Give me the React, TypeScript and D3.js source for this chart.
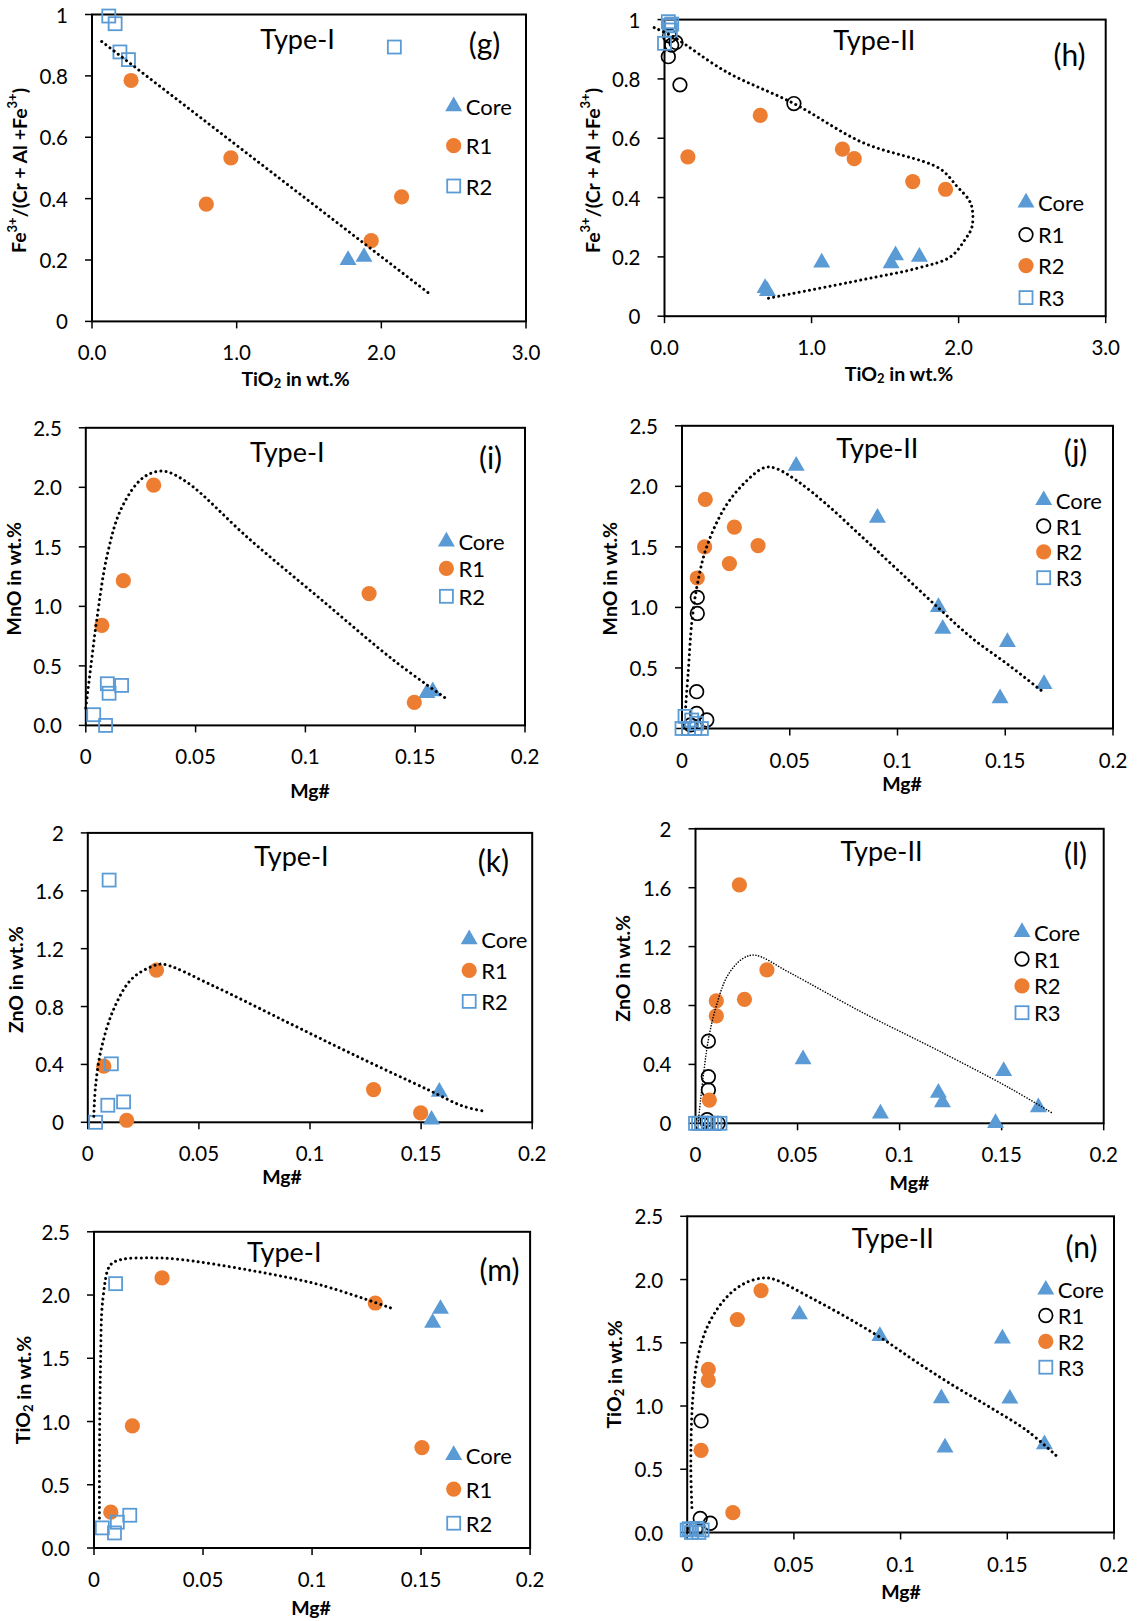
import React from 'react';
import * as d3 from 'd3';

type Pt = [number, number];

// ---------- (g) Type-I : Fe3+/(Cr+Al+Fe3+) vs TiO2 ----------
const gCore: Pt[] = [[1.77, 0.2], [1.88, 0.21]];
const gR1: Pt[] = [[0.27, 0.785], [0.96, 0.533], [0.79, 0.382], [2.14, 0.406], [1.93, 0.263]];
const gR2: Pt[] = [[0.116, 0.995], [0.16, 0.97], [0.193, 0.878], [0.252, 0.853], [2.09, 0.894]];
const gTrend: Pt[] = [[0.067, 0.912], [2.333, 0.09]];

// ---------- (h) Type-II ----------
const hCore: Pt[] = [[0.684, 0.095], [0.7, 0.085], [1.069, 0.181], [1.541, 0.178], [1.571, 0.205], [1.733, 0.2]];
const hR1: Pt[] = [[0.026, 0.875], [0.078, 0.923], [0.049, 0.914], [0.105, 0.78], [0.88, 0.717], [0.035, 0.945]];
const hR2: Pt[] = [[0.159, 0.537], [0.651, 0.677], [1.21, 0.563], [1.29, 0.531], [1.688, 0.454], [1.911, 0.428]];
const hR3: Pt[] = [[0.026, 0.993], [0.033, 0.979], [0.049, 0.985], [0.0, 0.92], [0.04, 0.965]];
const hTrend: Pt[] = [[-0.07, 0.973], [0.06, 0.942], [0.42, 0.824], [0.88, 0.717], [1.35, 0.585], [1.87, 0.498], [1.99, 0.437], [2.07, 0.392], [2.093, 0.36], [2.09, 0.3], [2.043, 0.258], [1.944, 0.2], [1.72, 0.162], [1.347, 0.123], [0.689, 0.059]];

// ---------- (i) Type-I : MnO vs Mg# ----------
const iCore: Pt[] = [[0.1553, 0.272], [0.158, 0.286]];
const iR1: Pt[] = [[0.0073, 0.841], [0.0171, 1.216], [0.0309, 2.018], [0.129, 1.107], [0.1496, 0.193]];
const iR2: Pt[] = [[0.0036, 0.09], [0.009, 0.0], [0.0098, 0.35], [0.0106, 0.27], [0.0163, 0.336]];
const iTrend: Pt[] = [[0, 0.146], [0.0024, 0.51], [0.0049, 0.874], [0.0098, 1.435], [0.0163, 1.827], [0.026, 2.08], [0.035, 2.136], [0.0455, 2.05], [0.0748, 1.56], [0.107, 1.06], [0.14, 0.55], [0.1642, 0.224]];

// ---------- (j) Type-II : MnO vs Mg# ----------
const jCore: Pt[] = [[0.053, 2.17], [0.0907, 1.74], [0.119, 1.003], [0.121, 0.823], [0.151, 0.713], [0.1476, 0.249], [0.168, 0.367]];
const jR1: Pt[] = [[0.0071, 1.083], [0.0071, 0.95], [0.0068, 0.304], [0.0068, 0.125], [0.0115, 0.07], [0.004, 0.03]];
const jR2: Pt[] = [[0.0108, 1.892], [0.0105, 1.5], [0.0071, 1.243], [0.0243, 1.663], [0.022, 1.362], [0.0353, 1.511]];
const jR3: Pt[] = [[0.0014, 0.1], [0.0045, 0.07], [0.0068, 0.043], [0, 0], [0.003, 0], [0.006, 0], [0.009, 0]];
const jTrend: Pt[] = [[0.0017, 0.18], [0.0029, 0.47], [0.0046, 0.884], [0.0071, 1.188], [0.0113, 1.492], [0.0198, 1.823], [0.0299, 2.044], [0.0383, 2.155], [0.0434, 2.149], [0.0535, 2.044], [0.0671, 1.851], [0.084, 1.575], [0.1008, 1.298], [0.1194, 0.989], [0.1346, 0.746], [0.1515, 0.525], [0.1684, 0.29]];

// ---------- (k) Type-I : ZnO vs Mg# ----------
const kCore: Pt[] = [[0.1582, 0.21], [0.1547, 0.018]];
const kR1: Pt[] = [[0.0072, 0.388], [0.0175, 0.014], [0.0309, 1.051], [0.1286, 0.226], [0.1498, 0.065]];
const kR2: Pt[] = [[0.0096, 1.674], [0.0106, 0.404], [0.009, 0.118], [0.0161, 0.141], [0.0035, 0.0]];
const kTrend: Pt[] = [[0.0027, 0.042], [0.0035, 0.25], [0.006, 0.503], [0.0116, 0.78], [0.0196, 0.988], [0.0293, 1.08], [0.034, 1.092], [0.0566, 0.942], [0.0887, 0.7], [0.121, 0.457], [0.153, 0.226], [0.169, 0.111], [0.1788, 0.076]];

// ---------- (l) Type-II : ZnO vs Mg# ----------
const lCore: Pt[] = [[0.0527, 0.434], [0.0906, 0.066], [0.119, 0.207], [0.121, 0.143], [0.151, 0.354], [0.147, 0.002], [0.168, 0.109]];
const lR1: Pt[] = [[0.0063, 0.558], [0.0063, 0.316], [0.0063, 0.226], [0.0057, 0.025], [0.0111, 0.0], [0.006, 0.0], [0.003, 0.0]];
const lR2: Pt[] = [[0.0215, 1.619], [0.035, 1.042], [0.024, 0.842], [0.0102, 0.831], [0.0102, 0.729], [0.0068, 0.158]];
const lR3: Pt[] = [[0, 0], [0.0015, 0], [0.003, 0], [0.0045, 0], [0.0063, 0], [0.0078, 0], [0.0095, 0], [0.012, 0]];
const lTrend: Pt[] = [[0.0013, 0], [0.004, 0.343], [0.0066, 0.59], [0.0102, 0.797], [0.0156, 1.0], [0.0228, 1.115], [0.029, 1.142], [0.046, 1.024], [0.082, 0.751], [0.1178, 0.502], [0.1537, 0.241], [0.1752, 0.066]];

// ---------- (m) Type-I : TiO2 vs Mg# ----------
const mCore: Pt[] = [[0.1553, 1.78], [0.1589, 1.89]];
const mR1: Pt[] = [[0.0312, 2.135], [0.0176, 0.966], [0.0077, 0.283], [0.129, 1.937], [0.1504, 0.794]];
const mR2: Pt[] = [[0.0099, 2.09], [0.0038, 0.159], [0.0107, 0.204], [0.0094, 0.119], [0.0164, 0.259]];
const mTrend: Pt[] = [[0.0025, 0.238], [0.0025, 0.648], [0.003, 1.442], [0.0041, 1.971], [0.0074, 2.235], [0.0123, 2.28], [0.0255, 2.294], [0.0386, 2.283], [0.0715, 2.196], [0.1044, 2.077], [0.138, 1.886]];

// ---------- (n) Type-II : TiO2 vs Mg# ----------
const nCore: Pt[] = [[0.0526, 1.724], [0.0903, 1.553], [0.1191, 1.06], [0.1208, 0.671], [0.1477, 1.534], [0.1512, 1.058], [0.1674, 0.697]];
const nR1: Pt[] = [[0.0065, 0.882], [0.0061, 0.112], [0.0108, 0.073], [0.004, 0.03]];
const nR2: Pt[] = [[0.0346, 1.913], [0.0235, 1.684], [0.0099, 1.289], [0.0099, 1.203], [0.0065, 0.65], [0.0214, 0.157]];
const nR3: Pt[] = [[0, 0.02], [0.002, 0], [0.0045, 0.033], [0.007, 0.02], [0.001, 0.03], [0.0055, 0.0]];
const nTrend: Pt[] = [[0.0022, 0.197], [0.0017, 0.526], [0.0026, 1.053], [0.0051, 1.395], [0.0103, 1.658], [0.0189, 1.868], [0.0274, 1.974], [0.036, 2.013], [0.0411, 2.0], [0.0566, 1.868], [0.0737, 1.711], [0.0908, 1.539], [0.108, 1.342], [0.1251, 1.158], [0.1422, 0.987], [0.1594, 0.803], [0.1731, 0.605]];

// ---------- ticks ----------
const tiTicks = [0, 1, 2, 3];
const feTicks = [0, 0.2, 0.4, 0.6, 0.8, 1];
const mgTicks = [0, 0.05, 0.1, 0.15, 0.2];
const mnoTicks = [0, 0.5, 1, 1.5, 2, 2.5];
const znoTicks = [0, 0.4, 0.8, 1.2, 1.6, 2];
const tio2Ticks = [0, 0.5, 1, 1.5, 2, 2.5];

const BLUE = '#5B9BD5';
const ORANGE = '#ED7D31';
const FONT = 'Lato, "Open Sans", sans-serif';
const AXT = 19.5;

type Kind = 'tri' | 'dot' | 'ring' | 'sq';
interface Series { kind: Kind; label: string; data: Pt[] }
interface Panel {
  title: string; tag: string;
  L: number; R: number; T: number; B: number;
  xDom: [number, number]; yDom: [number, number];
  xTicks: number[]; yTicks: number[];
  xFmt: (v: number) => string; yFmt: (v: number) => string;
  series: Series[]; trend: Pt[]; trendW: number; trendGap: number;
  legX: number; legY: number[];
  titleP: Pt; tagP: Pt;
  xTitle: 'tio2' | 'mg'; yTitle: 'fe' | 'mno' | 'zno' | 'tio2';
  xTitleP: Pt; yTitleP: Pt;
}

const f1 = (v: number) => v.toFixed(1);
const fs = (v: number) => String(v);

const typeI = (core: Pt[], r1: Pt[], r2: Pt[]): Series[] => [
  { kind: 'tri', label: 'Core', data: core },
  { kind: 'dot', label: 'R1', data: r1 },
  { kind: 'sq', label: 'R2', data: r2 },
];
const typeII = (core: Pt[], r1: Pt[], r2: Pt[], r3: Pt[]): Series[] => [
  { kind: 'tri', label: 'Core', data: core },
  { kind: 'ring', label: 'R1', data: r1 },
  { kind: 'dot', label: 'R2', data: r2 },
  { kind: 'sq', label: 'R3', data: r3 },
];

const TW = 3.0;
const TG = 5.2;

const panels: Panel[] = [
  {
    title: 'Type-I', tag: '(g)', L: 92, R: 526, T: 14.5, B: 321.4,
    xDom: [0, 3], yDom: [0, 1], xTicks: tiTicks, yTicks: feTicks, xFmt: f1, yFmt: fs,
    series: typeI(gCore, gR1, gR2), trend: gTrend, trendW: TW, trendGap: TG,
    legX: 453.7, legY: [106.4, 145.7, 186], titleP: [297.6, 38.2], tagP: [484.5, 43.4],
    xTitle: 'tio2', yTitle: 'fe', xTitleP: [295.6, 378.2], yTitleP: [18.6, 170.5],
  },
  {
    title: 'Type-II', tag: '(h)', L: 664.5, R: 1105.7, T: 19.6, B: 316.2,
    xDom: [0, 3], yDom: [0, 1], xTicks: tiTicks, yTicks: feTicks, xFmt: f1, yFmt: fs,
    series: typeII(hCore, hR1, hR2, hR3), trend: hTrend, trendW: TW, trendGap: TG,
    legX: 1026, legY: [202.5, 234.6, 265.6, 297.6], titleP: [874.3, 39.3], tagP: [1069.5, 53.7],
    xTitle: 'tio2', yTitle: 'fe', xTitleP: [899, 373], yTitleP: [592, 170.5],
  },
  {
    title: 'Type-I', tag: '(i)', L: 85.8, R: 525, T: 427.8, B: 725.4,
    xDom: [0, 0.2], yDom: [0, 2.5], xTicks: mgTicks, yTicks: mnoTicks, xFmt: fs, yFmt: f1,
    series: typeI(iCore, iR1, iR2), trend: iTrend, trendW: TW, trendGap: TG,
    legX: 446.4, legY: [541.5, 568.4, 596.3], titleP: [287.3, 451.6], tagP: [490.5, 456.8],
    xTitle: 'mg', yTitle: 'mno', xTitleP: [310, 790.6], yTitleP: [13.4, 578.7],
  },
  {
    title: 'Type-II', tag: '(j)', L: 682, R: 1113, T: 425.8, B: 728.5,
    xDom: [0, 0.2], yDom: [0, 2.5], xTicks: mgTicks, yTicks: mnoTicks, xFmt: fs, yFmt: f1,
    series: typeII(jCore, jR1, jR2, jR3), trend: jTrend, trendW: TW, trendGap: TG,
    legX: 1043.7, legY: [500.2, 526, 551.8, 577.7], titleP: [877.4, 447.5], tagP: [1075.5, 449.5],
    xTitle: 'mg', yTitle: 'mno', xTitleP: [902, 783.3], yTitleP: [609.7, 578.7],
  },
  {
    title: 'Type-I', tag: '(k)', L: 87.8, R: 532.2, T: 832.9, B: 1122.3,
    xDom: [0, 0.2], yDom: [0, 2], xTicks: mgTicks, yTicks: znoTicks, xFmt: fs, yFmt: fs,
    series: typeI(kCore, kR1, kR2), trend: kTrend, trendW: TW, trendGap: TG,
    legX: 469.2, legY: [939.4, 970.4, 1001.4], titleP: [291.4, 855.7], tagP: [493.5, 859.8],
    xTitle: 'mg', yTitle: 'zno', xTitleP: [282, 1176], yTitleP: [15.5, 979.7],
  },
  {
    title: 'Type-II', tag: '(l)', L: 695.5, R: 1103.7, T: 828.8, B: 1123.3,
    xDom: [0, 0.2], yDom: [0, 2], xTicks: mgTicks, yTicks: znoTicks, xFmt: fs, yFmt: fs,
    series: typeII(lCore, lR1, lR2, lR3), trend: lTrend, trendW: 1.6, trendGap: 2.8,
    legX: 1022, legY: [932.1, 959, 985.9, 1012.7], titleP: [881.5, 850.5], tagP: [1075.5, 852.6],
    xTitle: 'mg', yTitle: 'zno', xTitleP: [909.4, 1182.2], yTitleP: [622, 968.3],
  },
  {
    title: 'Type-I', tag: '(m)', L: 94, R: 530.1, T: 1231.8, B: 1548,
    xDom: [0, 0.2], yDom: [0, 2.5], xTicks: mgTicks, yTicks: tio2Ticks, xFmt: fs, yFmt: f1,
    series: typeI(mCore, mR1, mR2), trend: mTrend, trendW: TW, trendGap: TG,
    legX: 453.7, legY: [1455, 1489.1, 1523.2], titleP: [284.2, 1251.4], tagP: [499.5, 1269],
    xTitle: 'mg', yTitle: 'tio2', xTitleP: [311, 1607], yTitleP: [22.7, 1390],
  },
  {
    title: 'Type-II', tag: '(n)', L: 687.2, R: 1114, T: 1216.3, B: 1532.5,
    xDom: [0, 0.2], yDom: [0, 2.5], xTicks: mgTicks, yTicks: tio2Ticks, xFmt: fs, yFmt: f1,
    series: typeII(nCore, nR1, nR2, nR3), trend: nTrend, trendW: TW, trendGap: TG,
    legX: 1045.8, legY: [1289.7, 1315.5, 1341.4, 1367.2], titleP: [892.9, 1237], tagP: [1081.5, 1246.3],
    xTitle: 'mg', yTitle: 'tio2', xTitleP: [901, 1591.4], yTitleP: [613.8, 1374.4],
  },
];

const triPath = d3.symbol(d3.symbolTriangle, 125)() as string;

function Marker({ kind, x, y }: { kind: Kind; x: number; y: number }) {
  if (kind === 'tri') return <path d={triPath} transform={`translate(${x},${y})`} fill={BLUE} />;
  if (kind === 'dot') return <circle cx={x} cy={y} r={7.6} fill={ORANGE} />;
  if (kind === 'ring') return <circle cx={x} cy={y} r={6.8} fill="none" stroke="#000" strokeWidth={1.7} />;
  return <rect x={x - 6.5} y={y - 6.5} width={13} height={13} fill="none" stroke={BLUE} strokeWidth={1.8} />;
}

function YTitle({ kind, x, y }: { kind: Panel['yTitle']; x: number; y: number }) {
  const common = {
    transform: `translate(${x},${y}) rotate(-90)`, textAnchor: 'middle' as const,
    dominantBaseline: 'central' as const, fontFamily: FONT, fontWeight: 700, fontSize: AXT, fill: '#000',
  };
  if (kind === 'fe') {
    return (
      <text {...common}>
        Fe<tspan dy={-7} fontSize={13}>3+</tspan><tspan dy={7}>/(Cr + Al +Fe</tspan>
        <tspan dy={-7} fontSize={13}>3+</tspan><tspan dy={7}>)</tspan>
      </text>
    );
  }
  if (kind === 'tio2') {
    return (
      <text {...common}>
        TiO<tspan dy={5} fontSize={13}>2</tspan><tspan dy={-5}> in wt.%</tspan>
      </text>
    );
  }
  return <text {...common}>{kind === 'mno' ? 'MnO in wt.%' : 'ZnO in wt.%'}</text>;
}

function XTitle({ kind, x, y }: { kind: Panel['xTitle']; x: number; y: number }) {
  const common = {
    x, y, textAnchor: 'middle' as const, dominantBaseline: 'central' as const,
    fontFamily: FONT, fontWeight: 700, fontSize: AXT, fill: '#000',
  };
  if (kind === 'tio2') {
    return (
      <text {...common}>
        TiO<tspan dy={5} fontSize={13}>2</tspan><tspan dy={-5}> in wt.%</tspan>
      </text>
    );
  }
  return <text {...common}>Mg#</text>;
}

function PanelView({ p }: { p: Panel }) {
  const x = d3.scaleLinear().domain(p.xDom).range([p.L, p.R]);
  const y = d3.scaleLinear().domain(p.yDom).range([p.B, p.T]);
  const line = d3.line<Pt>().x((d) => x(d[0])).y((d) => y(d[1]))
    .curve(p.trend.length > 2 ? d3.curveCatmullRom.alpha(0.5) : d3.curveLinear);
  return (
    <g>
      <rect x={p.L} y={p.T} width={p.R - p.L} height={p.B - p.T} fill="none" stroke="#000" strokeWidth={2} />
      {p.yTicks.map((t) => (
        <g key={'y' + t}>
          <line x1={p.L - 7} x2={p.L} y1={y(t)} y2={y(t)} stroke="#000" strokeWidth={1.5} />
          <text x={p.L - 24} y={y(t)} textAnchor="end" dominantBaseline="central"
            fontFamily={FONT} fontSize={20.5} fill="#000">{p.yFmt(t)}</text>
        </g>
      ))}
      {p.xTicks.map((t) => (
        <g key={'x' + t}>
          <line x1={x(t)} x2={x(t)} y1={p.B} y2={p.B + 7} stroke="#000" strokeWidth={1.5} />
          <text x={x(t)} y={p.B + 31} textAnchor="middle" dominantBaseline="central"
            fontFamily={FONT} fontSize={20.5} fill="#000">{p.xFmt(t)}</text>
        </g>
      ))}
      {p.series.map((s, si) => (
        <g key={'s' + si}>
          {s.data.map((d, i) => <Marker key={i} kind={s.kind} x={x(d[0])} y={y(d[1])} />)}
        </g>
      ))}
      <path d={line(p.trend) || ''} fill="none" stroke="#000" strokeWidth={p.trendW}
        strokeDasharray={`0.01 ${p.trendGap}`} strokeLinecap="round" />
      <text x={p.titleP[0]} y={p.titleP[1]} textAnchor="middle" dominantBaseline="central"
        fontFamily={FONT} fontSize={27} fill="#000">{p.title}</text>
      <text x={p.tagP[0]} y={p.tagP[1]} textAnchor="middle" dominantBaseline="central"
        fontFamily={FONT} fontSize={30} fill="#000">{p.tag}</text>
      {p.series.map((s, si) => (
        <g key={'l' + si}>
          <Marker kind={s.kind} x={p.legX} y={p.legY[si]} />
          <text x={p.legX + 12} y={p.legY[si]} dominantBaseline="central"
            fontFamily={FONT} fontSize={22} fill="#000">{s.label}</text>
        </g>
      ))}
      <XTitle kind={p.xTitle} x={p.xTitleP[0]} y={p.xTitleP[1]} />
      <YTitle kind={p.yTitle} x={p.yTitleP[0]} y={p.yTitleP[1]} />
    </g>
  );
}

export default function App() {
  return (
    <svg width={1144} height={1621} style={{ position: 'absolute', left: 0, top: 0, background: '#fff' }}>
      <rect width={1144} height={1621} fill="#fff" />
      {panels.map((p) => <PanelView key={p.tag} p={p} />)}
    </svg>
  );
}
